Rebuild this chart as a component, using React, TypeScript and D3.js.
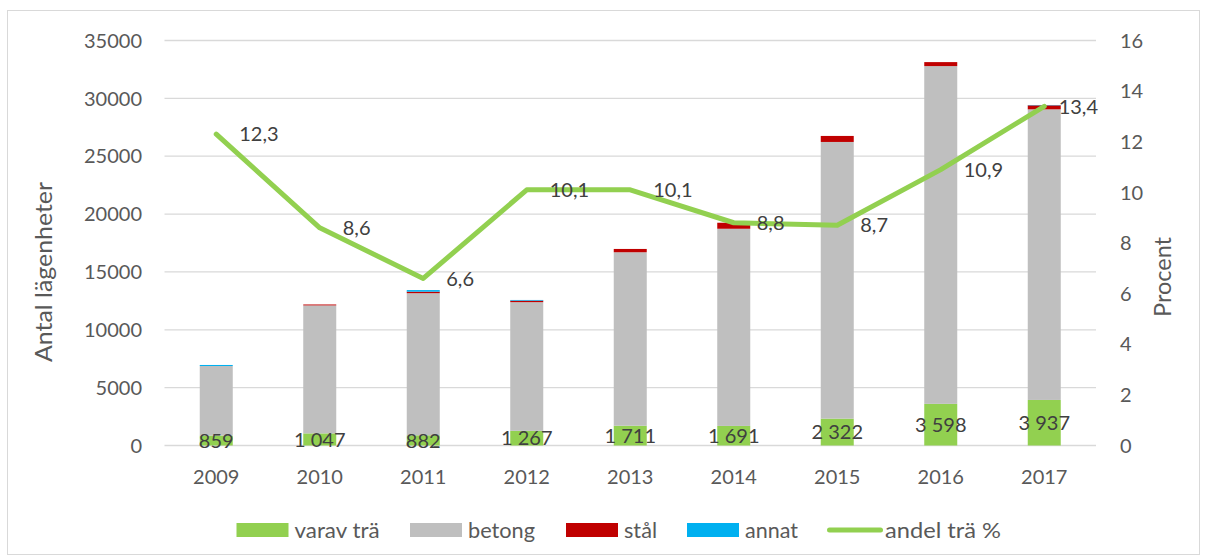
import React from "react";
import * as d3 from "d3";

const years = ["2009", "2010", "2011", "2012", "2013", "2014", "2015", "2016", "2017"];
const varavTra = [859, 1047, 882, 1267, 1711, 1691, 2322, 3598, 3937];
const betong = [6010, 11060, 12280, 11120, 14990, 17040, 23910, 29190, 25115];
const stal = [0, 80, 130, 130, 285, 520, 520, 345, 345];
const annat = [90, 0, 140, 60, 0, 0, 0, 0, 30];
const andelTra = [12.3, 8.6, 6.6, 10.1, 10.1, 8.8, 8.7, 10.9, 13.4];
const leftTicks = [0, 5000, 10000, 15000, 20000, 25000, 30000, 35000];
const rightTicks = [0, 2, 4, 6, 8, 10, 12, 14, 16];

const seriesNames = ["varav trä", "betong", "stål", "annat"];
const seriesColors = ["#92d050", "#bfbfbf", "#c00000", "#00b0f0"];
const lineName = "andel trä %";
const lineColor = "#92d050";

const W = 1208;
const H = 560;
const FONT = "Lato, 'Open Sans', sans-serif";
const TICK_COLOR = "#595959";
const LABEL_COLOR = "#404040";

export default function App() {
  const left = 164.5;
  const right = 1096;
  const top = 40.5;
  const bottom = 445.5;

  const x = d3.scaleBand<string>().domain(years).range([left, right]).paddingInner(0.68).paddingOuter(0.34);
  const yL = d3.scaleLinear().domain([0, 35000]).range([bottom, top]);
  const yR = d3.scaleLinear().domain([0, 16]).range([bottom, top]);

  const table = years.map((yr, i) => ({
    year: yr,
    "varav trä": varavTra[i],
    betong: betong[i],
    "stål": stal[i],
    annat: annat[i],
  }));
  const stack = d3.stack<any>().keys(seriesNames)(table);

  const bw = 33;
  const cx = (yr: string) => (x(yr) as number) + x.bandwidth() / 2;

  const fmt = d3.formatLocale({ decimal: ",", thousands: "\u00a0", grouping: [3], currency: ["", " kr"] });
  const fmtInt = fmt.format(",d");
  const fmtPct = fmt.format(".1f");

  const line = d3
    .line<number>()
    .x((_, i) => cx(years[i]))
    .y((d) => yR(d));

  const legendItems = [
    { name: seriesNames[0], color: seriesColors[0], x: 236.5, type: "rect", tl: 85 },
    { name: seriesNames[1], color: seriesColors[1], x: 410, type: "rect", tl: 67 },
    { name: seriesNames[2], color: seriesColors[2], x: 566, type: "rect", tl: 33 },
    { name: seriesNames[3], color: seriesColors[3], x: 687, type: "rect", tl: 53 },
    { name: lineName, color: lineColor, x: 827, type: "line", tl: 116 },
  ];

  return (
    <svg width={W} height={H} style={{ display: "block", position: "absolute", left: 0, top: 0 }} fontFamily={FONT}>
      <rect x={0} y={0} width={W} height={H} fill="#ffffff" />
      <rect x={7.5} y={10.5} width={1192} height={544} fill="none" stroke="#d9d9d9" strokeWidth={1} />

      {leftTicks.map((t) => (
        <line key={"g" + t} x1={left} x2={right} y1={yL(t)} y2={yL(t)} stroke="#d9d9d9" strokeWidth={1.3} />
      ))}

      {stack.map((s, si) =>
        s.map((d, i) => {
          const h = yL(d[0]) - yL(d[1]);
          if (h <= 0) return null;
          return (
            <rect
              key={si + "-" + i}
              x={cx(years[i]) - bw / 2}
              y={yL(d[1])}
              width={bw}
              height={h}
              fill={seriesColors[si]}
            />
          );
        })
      )}

      {varavTra.map((v, i) => (
        <text
          key={"dl" + i}
          x={cx(years[i])}
          y={(yL(0) + yL(v)) / 2}
          dy="0.36em"
          textAnchor="middle"
          fontSize={20}
          fill={LABEL_COLOR}
        >
          {fmtInt(v)}
        </text>
      ))}

      <path d={line(andelTra) || ""} fill="none" stroke={lineColor} strokeWidth={5} strokeLinejoin="round" strokeLinecap="round" />

      {andelTra.map((v, i) => {
        const px = cx(years[i]) + 23;
        const overflow = px + 40 > right + 2;
        return (
          <text
            key={"ll" + i}
            x={overflow ? right + 2 : px}
            y={yR(v)}
            dy="0.36em"
            textAnchor={overflow ? "end" : "start"}
            fontSize={20}
            fill={LABEL_COLOR}
          >
            {fmtPct(v)}
          </text>
        );
      })}

      {leftTicks.map((t) => (
        <text key={"lt" + t} x={142} y={yL(t)} dy="0.36em" textAnchor="end" fontSize={20} fill={TICK_COLOR}>
          {t}
        </text>
      ))}
      {rightTicks.map((t) => (
        <text key={"rt" + t} x={1120} y={yR(t)} dy="0.36em" textAnchor="start" fontSize={20} fill={TICK_COLOR}>
          {t}
        </text>
      ))}
      {years.map((yr) => (
        <text key={"x" + yr} x={cx(yr)} y={477} dy="0.36em" textAnchor="middle" fontSize={20} fill={TICK_COLOR}>
          {yr}
        </text>
      ))}

      <text
        transform={`translate(43.5,272) rotate(-90)`}
        textAnchor="middle"
        dy="0.36em"
        fontSize={24}
        fill={TICK_COLOR}
        textLength={180}
        lengthAdjust="spacingAndGlyphs"
      >
        Antal lägenheter
      </text>
      <text
        transform={`translate(1163,277) rotate(-90)`}
        textAnchor="middle"
        dy="0.36em"
        fontSize={23}
        fill={TICK_COLOR}
        textLength={80}
        lengthAdjust="spacingAndGlyphs"
      >
        Procent
      </text>

      {legendItems.map((it) => (
        <g key={it.name}>
          {it.type === "rect" ? (
            <rect x={it.x} y={523} width={52} height={14} fill={it.color} />
          ) : (
            <line x1={it.x + 2.5} x2={it.x + 53.5} y1={530} y2={530} stroke={it.color} strokeWidth={5} strokeLinecap="round" />
          )}
          <text
            x={it.x + 58}
            y={530}
            dy="0.36em"
            fontSize={22}
            fill={TICK_COLOR}
            textLength={it.tl}
            lengthAdjust="spacingAndGlyphs"
          >
            {it.name}
          </text>
        </g>
      ))}
    </svg>
  );
}
